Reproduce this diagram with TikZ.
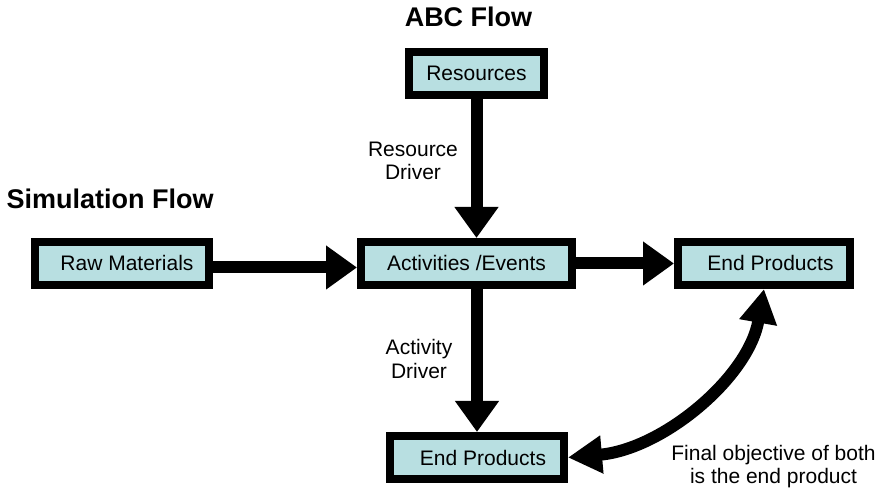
\documentclass[tikz,border=0pt]{standalone}
\usepackage{fontspec}
\setmainfont{Liberation Sans}
\usetikzlibrary{arrows.meta}
\definecolor{boxfill}{RGB}{184,223,225}
\begin{document}
\begin{tikzpicture}[x=1pt,y=1pt,
  box/.style={draw=black, line width=8pt, fill=boxfill, inner sep=0pt,
    minimum height=43pt, font=\fontsize{21}{24}\selectfont},
  lbl/.style={align=center, font=\fontsize{21}{23.4}\selectfont},
  ttl/.style={font=\fontsize{27}{30}\selectfont\bfseries},
  flow/.style={line width=12pt, -{Triangle[width=42pt,length=31pt]}},
  both/.style={line width=12pt, {Triangle[width=36pt,length=34pt]}-{Triangle[width=36pt,length=34pt]}}]
\useasboundingbox (0,0) rectangle (876,489);

\node[ttl, anchor=base] (abc) at (468.5,462.3) {ABC Flow};
\node[ttl, anchor=base west] (sim) at (3,280.7) {Simulation Flow};

\node[box, minimum width=135pt] (res) at (476.5,415.5) {Resources};
\node[box, minimum width=174pt] (raw) at (122,225.5) {\hspace*{10pt}Raw Materials};
\node[box, minimum width=211pt] (act) at (466.5,225.5) {Activities /Events};
\node[box, minimum width=172pt] (endr) at (764,225.5) {\hspace*{13pt}End Products};
\node[box, minimum width=174pt] (endb) at (477,31.5) {\hspace*{12pt}End Products};

\node[lbl] (rdrv) at (413,328.3) {Resource\\Driver};
\node[lbl] (adrv) at (419,130) {Activity\\Driver};
\node[lbl] (fin) at (773.5,22.5) {Final objective of both\\is the end product};

\draw[flow] (res.south) -- (res.south |- act.north);
\draw[flow] ([yshift=-4pt]raw.east) -- ([yshift=-4pt]act.west);
\draw[flow] (act.east) -- (endr.west);
\draw[flow] (endb.north |- act.south) -- (endb.north);
\draw[both] (endb.east) to[out=5, in=-100, out distance=95pt, in distance=90pt] (endr.south);
\end{tikzpicture}
\end{document}
